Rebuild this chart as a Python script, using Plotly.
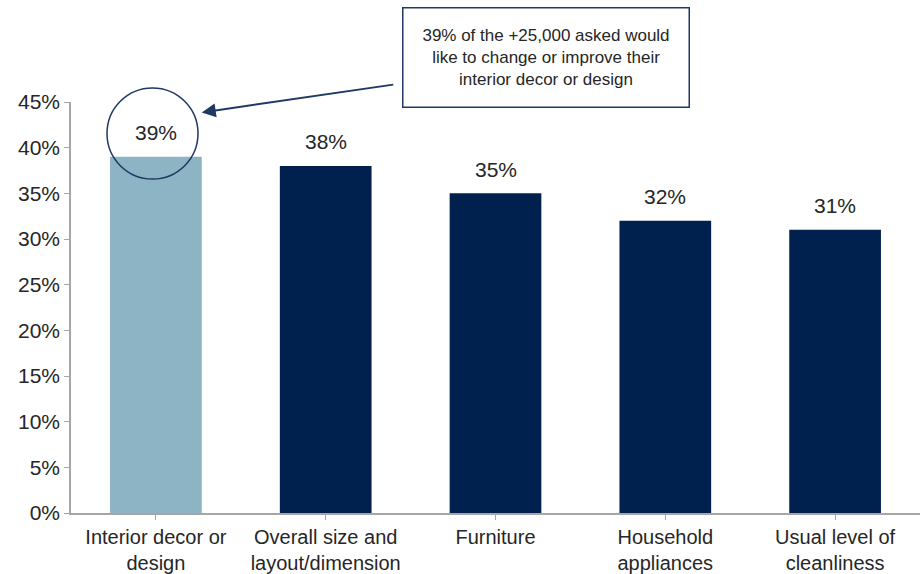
import plotly.graph_objects as go

# Survey results: share of respondents who would like to change each aspect
categories = ["Interior decor or<br>design", "Overall size and<br>layout/dimension",
              "Furniture", "Household<br>appliances", "Usual level of<br>cleanliness"]
values = [0.39, 0.38, 0.35, 0.32, 0.31]
highlight_index = 0
y_ticks = [0, 0.05, 0.10, 0.15, 0.20, 0.25, 0.30, 0.35, 0.40, 0.45]
callout_text = "39% of the +25,000 asked would<br>like to change or improve their<br>interior decor or design"

LIGHT = "#8DB4C4"
NAVY = "#00204E"
TEXT = "#262626"
AXIS = "#A6A6A6"
FONT = "Arial, Liberation Sans, sans-serif"

colors = [LIGHT if i == highlight_index else NAVY for i in range(len(values))]

fig = go.Figure(go.Bar(
    x=list(range(len(values))),
    y=values,
    marker=dict(color=colors, line=dict(width=0)),
    hoverinfo="skip",
))

# value labels above each bar
for i, v in enumerate(values):
    fig.add_annotation(x=i, y=v, xref="x", yref="y", text=f"{round(v * 100)}%",
                       showarrow=False, yanchor="middle", yshift=24,
                       font=dict(family=FONT, size=21, color=TEXT))

# circle around the highlighted value (paper-anchored so it is not clipped)
fig.add_shape(type="circle", xref="paper", yref="paper",
              xsizemode="pixel", ysizemode="pixel",
              xanchor=0.096, yanchor=0.9234,
              x0=-45.5, x1=45.5, y0=-45.5, y1=45.5,
              line=dict(color="#1F3864", width=1.5), fillcolor="rgba(0,0,0,0)")

# arrow pointing from the callout box to the circle
fig.add_annotation(x=highlight_index + 0.27, y=0.4386, xref="x", yref="y",
                   ax=193, ay=-28, axref="pixel", ayref="pixel",
                   text="", showarrow=True, arrowhead=2, arrowsize=1.4,
                   arrowwidth=2, arrowcolor="#1F3864", standoff=0)

# callout box
fig.add_annotation(x=0.5595, y=1.108, xref="paper", yref="paper",
                   text=callout_text, showarrow=False, align="center",
                   xanchor="center", yanchor="middle",
                   width=285, height=98, borderpad=0,
                   bordercolor="#1F3864", borderwidth=1.5, bgcolor="white",
                   font=dict(family=FONT, size=17, color=TEXT))

fig.update_layout(
    width=921, height=574,
    margin=dict(l=71, r=1, t=102, b=61, autoexpand=False),
    paper_bgcolor="white", plot_bgcolor="white",
    bargap=0.46, showlegend=False,
    font=dict(family=FONT, size=21, color=TEXT),
)
fig.update_xaxes(
    tickmode="array", tickvals=list(range(len(values))), ticktext=categories,
    tickson="boundaries", ticks="outside", ticklen=5, tickcolor=AXIS,
    showline=True, linecolor=AXIS, linewidth=1.5, showgrid=False,
    range=[-0.5, len(values) - 0.5], automargin=False,
    tickfont=dict(family=FONT, size=20, color=TEXT),
)
fig.update_yaxes(
    range=[0, 0.45], tickvals=y_ticks, tickformat=".0%",
    ticks="outside", ticklen=5, tickcolor=AXIS, automargin=False,
    showline=True, linecolor=AXIS, linewidth=1.5, showgrid=False, zeroline=False,
    tickfont=dict(family=FONT, size=21, color=TEXT),
)

fig.write_html("out.html")
